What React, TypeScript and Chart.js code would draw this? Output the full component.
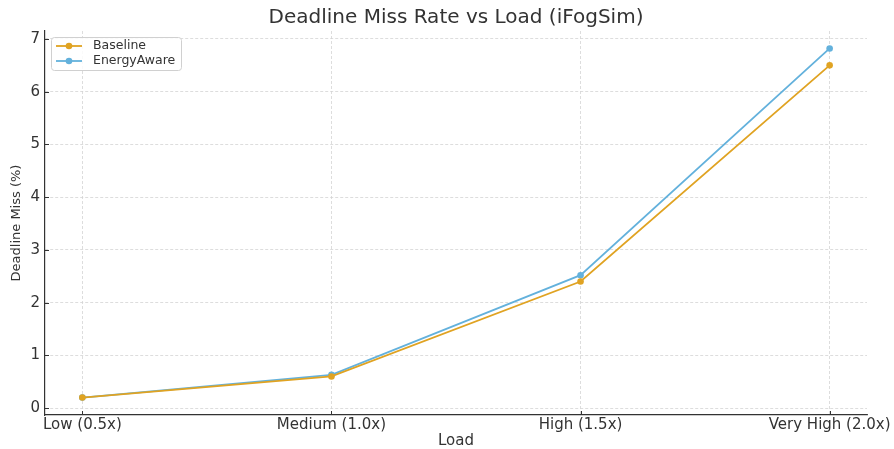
import React, { useEffect, useRef } from "react";
import { Chart, registerables } from "chart.js";

Chart.register(...registerables);

const categories = ["Low (0.5x)", "Medium (1.0x)", "High (1.5x)", "Very High (2.0x)"];
const baseline = [0.2, 0.6, 2.4, 6.5];
const energyAware = [0.2, 0.63, 2.52, 6.82];
const yTicks = [0, 1, 2, 3, 4, 5, 6, 7];

const FONT = "'DejaVu Sans', sans-serif";
const TEXT = "#333333";
const C_BASE = "#E0A322";
const C_EA = "#63B1DC";

const decorPlugin = {
  id: "decor",
  afterDraw(chart: any) {
    const ctx = chart.ctx;
    const ca = chart.chartArea;
    const xs = chart.scales.x;
    const ys = chart.scales.y;
    ctx.save();
    // inward ticks
    ctx.strokeStyle = "#333";
    ctx.lineWidth = 1;
    yTicks.forEach((v) => {
      const py = Math.round(ys.getPixelForValue(v)) + 0.5;
      ctx.beginPath();
      ctx.moveTo(ca.left, py);
      ctx.lineTo(ca.left + 4, py);
      ctx.stroke();
    });
    categories.forEach((_, i) => {
      const px = Math.round(xs.getPixelForValue(i)) + 0.5;
      ctx.beginPath();
      ctx.moveTo(px, ca.bottom);
      ctx.lineTo(px, ca.bottom - 4);
      ctx.stroke();
    });
    // title
    ctx.fillStyle = TEXT;
    ctx.textAlign = "center";
    ctx.textBaseline = "middle";
    ctx.font = `20px ${FONT}`;
    ctx.fillText("Deadline Miss Rate vs Load (iFogSim)", (ca.left + ca.right) / 2, 18);
    // x title
    ctx.font = `15px ${FONT}`;
    ctx.fillText("Load", (ca.left + ca.right) / 2, 441);
    // y title
    ctx.save();
    ctx.translate(17, (ca.top + ca.bottom) / 2);
    ctx.rotate(-Math.PI / 2);
    ctx.font = `13px ${FONT}`;
    ctx.fillText("Deadline Miss (%)", 0, 0);
    ctx.restore();
    // legend
    const lx = ca.left + 6, ly = ca.top + 6, lw = 130, lh = 33;
    ctx.fillStyle = "rgba(255,255,255,0.85)";
    ctx.strokeStyle = "#d0d0d0";
    ctx.lineWidth = 1;
    ctx.beginPath();
    (ctx as any).roundRect(lx + 0.5, ly + 0.5, lw, lh, 3);
    ctx.fill();
    ctx.stroke();
    const items = [
      { label: "Baseline", color: C_BASE },
      { label: "EnergyAware", color: C_EA },
    ];
    items.forEach((it, i) => {
      const y = ly + 9 + i * 15;
      ctx.strokeStyle = it.color;
      ctx.lineWidth = 1.8;
      ctx.beginPath();
      ctx.moveTo(lx + 5, y);
      ctx.lineTo(lx + 31, y);
      ctx.stroke();
      ctx.fillStyle = it.color;
      ctx.beginPath();
      ctx.arc(lx + 18, y, 3.3, 0, Math.PI * 2);
      ctx.fill();
      ctx.fillStyle = TEXT;
      ctx.textAlign = "left";
      ctx.font = `12.5px ${FONT}`;
      ctx.fillText(it.label, lx + 42, y);
    });
    ctx.restore();
  },
};

export default function App() {
  const ref = useRef<HTMLCanvasElement>(null);
  useEffect(() => {
    document.body.style.margin = "0";
    const chart = new Chart(ref.current as HTMLCanvasElement, {
      type: "line",
      data: {
        datasets: [
          {
            label: "Baseline",
            data: baseline.map((v, i) => ({ x: i, y: v })),
            borderColor: C_BASE,
            backgroundColor: C_BASE,
            borderWidth: 1.8,
            pointRadius: 3.3,
            pointBorderWidth: 0,
          },
          {
            label: "EnergyAware",
            data: energyAware.map((v, i) => ({ x: i, y: v })),
            borderColor: C_EA,
            backgroundColor: C_EA,
            borderWidth: 1.8,
            pointRadius: 3.3,
            pointBorderWidth: 0,
          },
        ],
      },
      options: {
        animation: false,
        responsive: false,
        maintainAspectRatio: false,
        layout: { padding: { top: 31, right: 27, left: 0, bottom: 0 } },
        plugins: { legend: { display: false }, title: { display: false }, tooltip: { enabled: false } },
        scales: {
          x: {
            type: "linear",
            min: -0.15,
            max: 3.15,
            afterBuildTicks: (s: any) => {
              s.ticks = categories.map((_, i) => ({ value: i }));
            },
            afterFit: (s: any) => {
              s.height = 34;
            },
            ticks: {
              callback: (v: any) => categories[v as number] ?? "",
              font: { family: FONT, size: 15 },
              color: TEXT,
              padding: 1,
              maxRotation: 0,
              autoSkip: false,
            },
            grid: {
              color: "#d4d4d4",
              lineWidth: 0.8,
              tickLength: 0,
            },
            border: { display: true, color: "#333", width: 1.2, dash: [3, 2] },
          },
          y: {
            type: "linear",
            min: -0.131,
            max: 7.151,
            afterBuildTicks: (s: any) => {
              s.ticks = yTicks.map((v) => ({ value: v }));
            },
            afterFit: (s: any) => {
              s.width = 45;
            },
            ticks: {
              font: { family: FONT, size: 15 },
              color: TEXT,
              padding: 5,
            },
            grid: {
              color: "#d4d4d4",
              lineWidth: 0.8,
              tickLength: 0,
            },
            border: { display: true, color: "#333", width: 1.2, dash: [3, 2] },
          },
        },
      } as any,
      plugins: [decorPlugin],
    } as any);
    return () => chart.destroy();
  }, []);
  return (
    <div style={{ position: "fixed", left: 0, top: 0, width: 894, height: 449 }}>
      <canvas ref={ref} width={894} height={449} style={{ width: 894, height: 449 }} />
    </div>
  );
}
